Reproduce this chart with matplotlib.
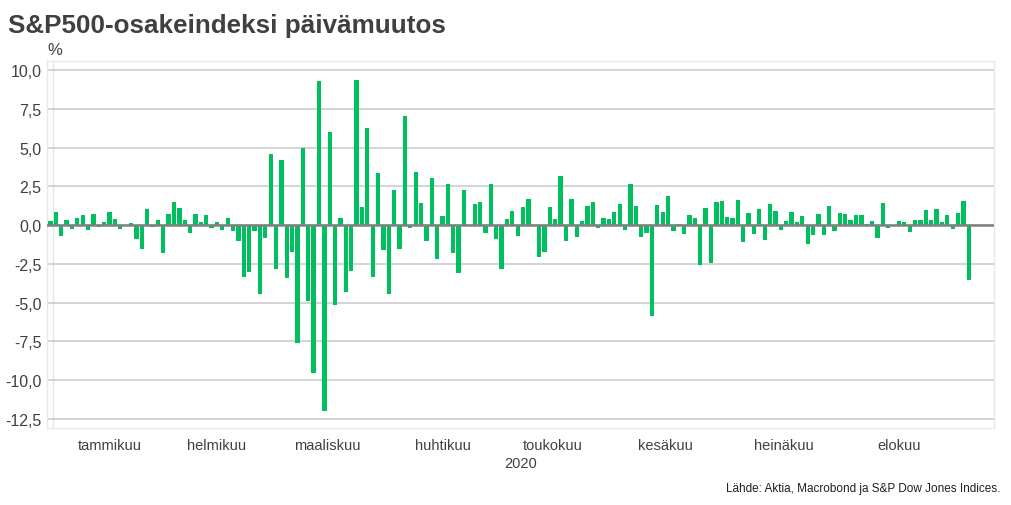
import numpy as np
import matplotlib.pyplot as plt

plt.rcParams['font.family'] = ['Liberation Sans', 'DejaVu Sans']
plt.rcParams['axes.unicode_minus'] = False

# S&P500 päivämuutokset (%) kauppapäivittäin, 31.12.2019 - 3.9.2020
joulu_2019 = [0.29]
tammi = [0.84, -0.71, 0.35, -0.28, 0.49, 0.67, -0.29, 0.70, -0.15, 0.19, 0.84,
         0.39, -0.27, 0.03, 0.11, -0.90, -1.57, 1.01, -0.09, 0.31, -1.77]
helmi = [0.73, 1.50, 1.13, 0.33, -0.54, 0.73, 0.17, 0.65, -0.16, 0.18, -0.29,
         0.47, -0.38, -1.05, -3.35, -3.03, -0.38, -4.42, -0.82]
maalis = [4.60, -2.81, 4.22, -3.39, -1.71, -7.60, 4.94, -4.89, -9.51, 9.29, -11.98,
          6.00, -5.18, 0.47, -4.34, -2.93, 9.38, 1.15, 6.24, -3.37, 3.35, -1.60]
huhti = [-4.41, 2.28, -1.51, 7.03, -0.16, 3.41, 1.45, -1.01, 3.06, -2.20, 0.58,
         2.68, -1.79, -3.07, 2.29, -0.05, 1.39, 1.47, -0.52, 2.66, -0.92]
touko = [-2.81, 0.42, 0.90, -0.70, 1.15, 1.69, 0.01, -2.05, -1.75, 1.15, 0.39,
         3.15, -1.05, 1.67, -0.78, 0.24, 1.23, 1.48, -0.21, 0.48]
kesa = [0.38, 0.82, 1.36, -0.34, 2.62, 1.20, -0.78, -0.53, -5.89, 1.31, 0.83,
        1.90, -0.36, 0.06, -0.56, 0.65, 0.43, -2.59, 1.10, -2.42, 1.47, 1.54]
heina = [0.50, 0.45, 1.59, -1.08, 0.78, -0.56, 1.05, -0.94, 1.34, 0.91, -0.34,
         0.28, 0.84, 0.17, 0.57, -1.23, -0.62, 0.74, -0.65, 1.24, -0.38, 0.77]
elo = [0.72, 0.36, 0.64, 0.64, 0.06, 0.27, -0.80, 1.40, -0.20, -0.02, 0.27,
       0.23, -0.44, 0.32, 0.34, 1.00, 0.36, 1.02, 0.17, 0.67, -0.22]
syys = [0.75, 1.54, -3.51]

kuukaudet = [tammi, helmi, maalis, huhti, touko, kesa, heina, elo]
kuukausi_nimet = ['tammikuu', 'helmikuu', 'maaliskuu', 'huhtikuu',
                  'toukokuu', 'kesäkuu', 'heinäkuu', 'elokuu']
y_ticks = [10, 7.5, 5, 2.5, 0, -2.5, -5, -7.5, -10, -12.5]

muutos = np.array(joulu_2019 + sum(kuukaudet, []) + syys)
x = np.arange(len(muutos))

fig = plt.figure(figsize=(10.12, 5.06), dpi=100)
ax = fig.add_axes([47 / 1012, 1 - 429 / 506, (994 - 47) / 1012, (429 - 62) / 506])

ax.bar(x, muutos, width=0.8, color='#00bf5f', zorder=3)
ax.axhline(0, color='#808080', lw=1.8, zorder=4)
ax.axvline(0.5, color='#e6e6e6', lw=1, zorder=1)

ax.set_xlim(-0.65, 175.7)
ax.set_ylim(-13.08, 10.58)
ax.set_yticks(y_ticks)
ax.set_yticklabels([f'{v:.1f}'.replace('.', ',') for v in y_ticks],
                   fontsize=11.5, color='#404040')
ax.grid(axis='y', color='#c8c8c8', lw=1.1, zorder=0)
ax.tick_params(axis='y', length=0, pad=4)
ax.set_xticks([])
for s in ax.spines.values():
    s.set_color('#e8e8e8')
    s.set_linewidth(1)

# kuukausien nimet keskelle kuukauden jaksoa
alku = 1
for nimi, kk in zip(kuukausi_nimet, kuukaudet):
    keski = alku + (len(kk) - 1) / 2
    ax.text(keski, -0.045, nimi, transform=ax.get_xaxis_transform(),
            ha='center', va='center', fontsize=10.5, color='#404040')
    alku += len(kk)
ax.text(0.5, -0.095, '2020', transform=ax.transAxes, ha='center', va='center',
        fontsize=10.5, color='#404040')

fig.text(8 / 1012, 1 - 33 / 506, 'S&P500-osakeindeksi päivämuutos',
         fontsize=18.7, fontweight='bold', color='#404040', va='baseline')
fig.text(47 / 1012, 1 - 55 / 506, '%', fontsize=12, color='#404040', va='baseline')
fig.text(1000 / 1012, 1 - 492 / 506, 'Lähde: Aktia, Macrobond ja S&P Dow Jones Indices.',
         fontsize=8.5, color='#202020', ha='right', va='baseline')

fig.savefig('out.png', dpi=100)
